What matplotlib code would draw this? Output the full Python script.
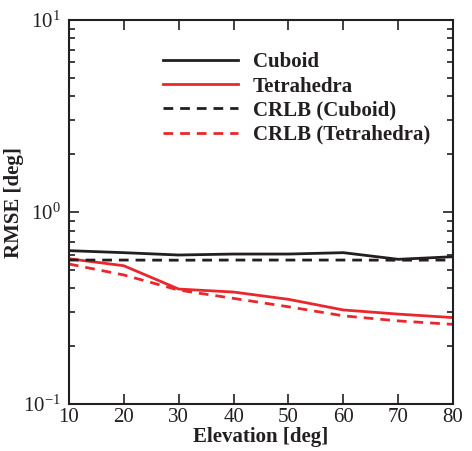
import numpy as np
import matplotlib
matplotlib.use("Agg")
import matplotlib.pyplot as plt

plt.rcParams['font.family'] = ['Liberation Serif', 'DejaVu Serif']
plt.rcParams['mathtext.fontset'] = 'stix'

elevation = [10, 20, 30, 40, 50, 60, 70, 80]
rmse_cuboid = [0.629, 0.614, 0.597, 0.604, 0.604, 0.614, 0.567, 0.585]
rmse_tetra = [0.571, 0.525, 0.397, 0.383, 0.351, 0.309, 0.294, 0.282]
crlb_cuboid = [0.562, 0.562, 0.561, 0.562, 0.562, 0.562, 0.561, 0.562]
crlb_tetra = [0.536, 0.470, 0.392, 0.355, 0.321, 0.288, 0.271, 0.260]

fig = plt.figure(figsize=(4.72, 4.51), dpi=100)
ax = fig.add_axes([0.146, 0.104, 0.814, 0.852])

black = '#231f20'
red = '#e8282d'
ax.plot(elevation, rmse_cuboid, color=black, lw=2, label='Cuboid')
ax.plot(elevation, rmse_tetra, color=red, lw=2, label='Tetrahedra')
ax.plot(elevation, crlb_cuboid, color=black, lw=2, ls=(0, (3.5, 2.5)), label='CRLB (Cuboid)')
ax.plot(elevation, crlb_tetra, color=red, lw=2, ls=(0, (3.5, 2.5)), label='CRLB (Tetrahedra)')

ax.set_yscale('log')
ax.set_xlim(10, 80)
ax.set_ylim(0.1, 10)
ax.set_xticks(range(10, 81, 10))

ax.tick_params(which='both', direction='in', top=True, right=True, labelsize=15,
               width=1.2, color=black, labelcolor=black)
ax.tick_params(which='major', length=7)
ax.tick_params(which='minor', length=4)
ax.tick_params(axis='x', pad=3)
ax.tick_params(axis='y', pad=6)
for s in ax.spines.values():
    s.set_linewidth(1.5)
    s.set_color(black)

ax.set_xlabel('Elevation [deg]', fontsize=15, fontweight='bold', labelpad=0, color=black)
ax.set_ylabel('RMSE [deg]', fontsize=15, fontweight='bold', color=black)
ax.yaxis.set_label_coords(-0.117, 0.525)

leg = ax.legend(loc='upper left', bbox_to_anchor=(0.197, 0.964), frameon=False,
                prop={'size': 15, 'weight': 'bold'}, handlelength=3.6,
                handletextpad=0.7, labelspacing=0.2, labelcolor=black)

fig.savefig('out.png', dpi=100)
